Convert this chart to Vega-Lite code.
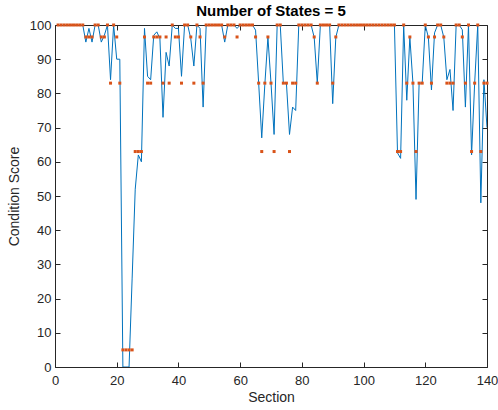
{
  "$schema": "https://vega.github.io/schema/vega-lite/v6.json",
  "width": 432,
  "height": 342,
  "autosize": {"type": "none"},
  "padding": {"left": 55, "top": 25, "right": 11, "bottom": 43},
  "background": "white",
  "title": {
    "text": "Number of States = 5",
    "font": "Liberation Sans",
    "fontSize": 15,
    "fontWeight": "bold",
    "color": "#000000",
    "anchor": "middle",
    "offset": 0
  },
  "config": {
    "view": {"stroke": null},
    "axis": {
      "grid": false,
      "domainColor": "#262626",
      "domainWidth": 1,
      "tickColor": "#262626",
      "tickWidth": 1,
      "tickSize": -5,
      "labelFlush": false,
      "labelOverlap": false,
      "labelColor": "#262626",
      "titleColor": "#262626",
      "labelFont": "Liberation Sans",
      "titleFont": "Liberation Sans",
      "labelFontSize": 13,
      "titleFontSize": 14,
      "titleFontWeight": "normal"
    }
  },
  "data": {
    "values": [
      {"s": 1, "v": 100, "st": 100}, {"s": 2, "v": 100, "st": 100}, {"s": 3, "v": 100, "st": 100},
      {"s": 4, "v": 100, "st": 100}, {"s": 5, "v": 100, "st": 100}, {"s": 6, "v": 100, "st": 100},
      {"s": 7, "v": 100, "st": 100}, {"s": 8, "v": 100, "st": 100}, {"s": 9, "v": 100, "st": 100},
      {"s": 10, "v": 95, "st": 96.5}, {"s": 11, "v": 99, "st": 96.5}, {"s": 12, "v": 95, "st": 96.5},
      {"s": 13, "v": 100, "st": 100}, {"s": 14, "v": 100, "st": 100}, {"s": 15, "v": 95, "st": 96.5},
      {"s": 16, "v": 97, "st": 96.5}, {"s": 17, "v": 100, "st": 100}, {"s": 18, "v": 84, "st": 83},
      {"s": 19, "v": 100, "st": 100}, {"s": 20, "v": 90, "st": 96.5}, {"s": 21, "v": 90, "st": 83},
      {"s": 22, "v": 0, "st": 5}, {"s": 23, "v": 0, "st": 5}, {"s": 24, "v": 0, "st": 5},
      {"s": 25, "v": 26, "st": 5}, {"s": 26, "v": 52, "st": 63}, {"s": 27, "v": 62, "st": 63},
      {"s": 28, "v": 60, "st": 63}, {"s": 29, "v": 99, "st": 96.5}, {"s": 30, "v": 85, "st": 83},
      {"s": 31, "v": 84, "st": 83}, {"s": 32, "v": 97, "st": 96.5}, {"s": 33, "v": 98, "st": 96.5},
      {"s": 34, "v": 96, "st": 96.5}, {"s": 35, "v": 73, "st": 83}, {"s": 36, "v": 92, "st": 96.5},
      {"s": 37, "v": 88, "st": 83}, {"s": 38, "v": 100, "st": 100}, {"s": 39, "v": 99, "st": 96.5},
      {"s": 40, "v": 99, "st": 96.5}, {"s": 41, "v": 85, "st": 83}, {"s": 42, "v": 100, "st": 100},
      {"s": 43, "v": 100, "st": 100}, {"s": 44, "v": 96, "st": 96.5}, {"s": 45, "v": 88, "st": 83},
      {"s": 46, "v": 100, "st": 100}, {"s": 47, "v": 99, "st": 96.5}, {"s": 48, "v": 76, "st": 83},
      {"s": 49, "v": 100, "st": 100}, {"s": 50, "v": 100, "st": 100}, {"s": 51, "v": 100, "st": 100},
      {"s": 52, "v": 100, "st": 100}, {"s": 53, "v": 100, "st": 100}, {"s": 54, "v": 100, "st": 100},
      {"s": 55, "v": 95, "st": 96.5}, {"s": 56, "v": 100, "st": 100}, {"s": 57, "v": 100, "st": 100},
      {"s": 58, "v": 100, "st": 100}, {"s": 59, "v": 99, "st": 96.5}, {"s": 60, "v": 100, "st": 100},
      {"s": 61, "v": 100, "st": 100}, {"s": 62, "v": 100, "st": 100}, {"s": 63, "v": 100, "st": 100},
      {"s": 64, "v": 100, "st": 100}, {"s": 65, "v": 98.5, "st": 96.5}, {"s": 66, "v": 83, "st": 83},
      {"s": 67, "v": 67, "st": 63}, {"s": 68, "v": 82.6, "st": 83}, {"s": 69, "v": 96.4, "st": 96.5},
      {"s": 70, "v": 83, "st": 83}, {"s": 71, "v": 68, "st": 63}, {"s": 72, "v": 100, "st": 100},
      {"s": 73, "v": 100, "st": 100}, {"s": 74, "v": 83, "st": 83}, {"s": 75, "v": 83, "st": 83},
      {"s": 76, "v": 68, "st": 63}, {"s": 77, "v": 76, "st": 83}, {"s": 78, "v": 75, "st": 83},
      {"s": 79, "v": 100, "st": 100}, {"s": 80, "v": 100, "st": 100}, {"s": 81, "v": 100, "st": 100},
      {"s": 82, "v": 100, "st": 100}, {"s": 83, "v": 100, "st": 100}, {"s": 84, "v": 96.4, "st": 96.5},
      {"s": 85, "v": 83, "st": 83}, {"s": 86, "v": 100, "st": 100}, {"s": 87, "v": 100, "st": 100},
      {"s": 88, "v": 100, "st": 100}, {"s": 89, "v": 100, "st": 100}, {"s": 90, "v": 77, "st": 83},
      {"s": 91, "v": 96.4, "st": 96.5}, {"s": 92, "v": 100, "st": 100}, {"s": 93, "v": 100, "st": 100},
      {"s": 94, "v": 100, "st": 100}, {"s": 95, "v": 100, "st": 100}, {"s": 96, "v": 100, "st": 100},
      {"s": 97, "v": 100, "st": 100}, {"s": 98, "v": 100, "st": 100}, {"s": 99, "v": 100, "st": 100},
      {"s": 100, "v": 100, "st": 100}, {"s": 101, "v": 100, "st": 100}, {"s": 102, "v": 100, "st": 100},
      {"s": 103, "v": 100, "st": 100}, {"s": 104, "v": 100, "st": 100}, {"s": 105, "v": 100, "st": 100},
      {"s": 106, "v": 100, "st": 100}, {"s": 107, "v": 100, "st": 100}, {"s": 108, "v": 100, "st": 100},
      {"s": 109, "v": 100, "st": 100}, {"s": 110, "v": 100, "st": 100}, {"s": 111, "v": 62.6, "st": 63},
      {"s": 112, "v": 61, "st": 63}, {"s": 113, "v": 100, "st": 100}, {"s": 114, "v": 78, "st": 83},
      {"s": 115, "v": 96.4, "st": 96.5}, {"s": 116, "v": 83, "st": 83}, {"s": 117, "v": 49, "st": 63},
      {"s": 118, "v": 83, "st": 83}, {"s": 119, "v": 83, "st": 83}, {"s": 120, "v": 100, "st": 100},
      {"s": 121, "v": 96.4, "st": 96.5}, {"s": 122, "v": 81, "st": 83}, {"s": 123, "v": 97.7, "st": 96.5},
      {"s": 124, "v": 100, "st": 100}, {"s": 125, "v": 100, "st": 100}, {"s": 126, "v": 96.4, "st": 96.5},
      {"s": 127, "v": 84, "st": 83}, {"s": 128, "v": 87, "st": 83}, {"s": 129, "v": 75, "st": 83},
      {"s": 130, "v": 100, "st": 100}, {"s": 131, "v": 100, "st": 100}, {"s": 132, "v": 98.6, "st": 96.5},
      {"s": 133, "v": 76, "st": 83}, {"s": 134, "v": 100, "st": 100}, {"s": 135, "v": 62, "st": 63},
      {"s": 136, "v": 83, "st": 83}, {"s": 137, "v": 100, "st": 100}, {"s": 138, "v": 48, "st": 63},
      {"s": 139, "v": 84, "st": 83}, {"s": 140, "v": 70, "st": 83}
    ]
  },
  "layer": [
    {
      "mark": {"type": "line", "color": "#0072BD", "strokeWidth": 1, "clip": true},
      "encoding": {
        "x": {
          "field": "s", "type": "quantitative",
          "scale": {"domain": [0, 140], "nice": false, "zero": false},
          "axis": {"title": "Section", "values": [0, 20, 40, 60, 80, 100, 120, 140], "labelPadding": 12, "titlePadding": 3}
        },
        "y": {
          "field": "v", "type": "quantitative",
          "scale": {"domain": [0, 100], "nice": false},
          "axis": {"title": "Condition Score", "values": [0, 10, 20, 30, 40, 50, 60, 70, 80, 90, 100], "labelPadding": 9, "titlePadding": 8}
        }
      }
    },
    {
      "mark": {"type": "point", "shape": "square", "filled": true, "size": 9, "opacity": 1, "color": "#D95319"},
      "encoding": {
        "x": {
          "field": "s", "type": "quantitative",
          "axis": {"orient": "top", "title": null, "labels": false, "values": [0, 20, 40, 60, 80, 100, 120, 140]}
        },
        "y": {
          "field": "st", "type": "quantitative",
          "axis": {"orient": "right", "title": null, "labels": false, "values": [0, 10, 20, 30, 40, 50, 60, 70, 80, 90, 100]}
        }
      }
    }
  ],
  "resolve": {"axis": {"x": "independent", "y": "independent"}}
}
